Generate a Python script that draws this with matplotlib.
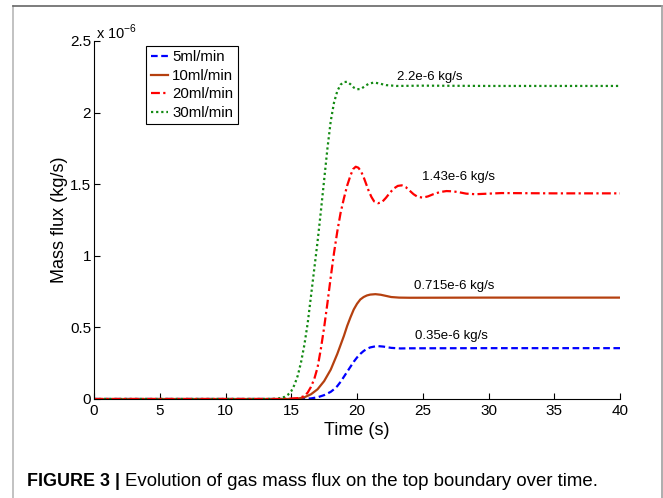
import matplotlib
matplotlib.use("Agg")
import matplotlib.pyplot as plt
from matplotlib.lines import Line2D
from matplotlib.transforms import offset_copy

plt.rcParams["font.family"] = ["Liberation Sans", "DejaVu Sans"]
plt.rcParams["mathtext.fontset"] = "custom"
plt.rcParams["mathtext.rm"] = "Liberation Sans"

# Gas mass flux on the top boundary (units of 1e-6 kg/s) versus time (s)
t_5 = [0, 15.5, 16, 16.5, 17, 17.5, 18, 18.25, 18.5, 18.75, 19, 19.25, 19.5,
       19.75, 20, 20.25, 20.5, 20.75, 21, 21.5, 22, 22.6, 23.3, 24, 30, 40]
q_5 = [0, 0, 0.001, 0.004, 0.012, 0.027, 0.05, 0.068, 0.09, 0.12, 0.155, 0.19,
       0.225, 0.26, 0.29, 0.315, 0.335, 0.35, 0.36, 0.370, 0.366, 0.357, 0.353,
       0.354, 0.355, 0.355]

t_10 = [0, 15, 15.5, 16, 16.5, 17, 17.5, 18, 18.5, 19, 19.25, 19.5, 19.75, 20,
        20.25, 20.5, 20.75, 21, 21.4, 21.8, 22.2, 22.6, 23.2, 24, 30, 40]
q_10 = [0, 0, 0.003, 0.012, 0.033, 0.068, 0.125, 0.205, 0.315, 0.44, 0.51,
        0.57, 0.625, 0.665, 0.695, 0.712, 0.723, 0.729, 0.732, 0.728, 0.72,
        0.712, 0.708, 0.707, 0.708, 0.708]

t_20 = [0, 14.5, 15, 15.5, 16, 16.25, 16.5, 16.75, 17, 17.25, 17.5, 17.75, 18,
        18.25, 18.5, 18.75, 19, 19.25, 19.5, 19.7, 19.9, 20.1, 20.3, 20.5, 20.7,
        20.9, 21.1, 21.3, 21.6, 21.9, 22.2, 22.5, 22.8, 23.1, 23.4, 23.7, 24.0,
        24.3, 24.6, 25.0, 25.4, 25.8, 26.3, 26.8, 27.3, 27.8, 28.3, 29, 30, 31,
        35, 40]
q_20 = [0, 0, 0.003, 0.006, 0.02, 0.045, 0.085, 0.14, 0.22, 0.35, 0.50, 0.67,
        0.85, 1.02, 1.17, 1.30, 1.40, 1.49, 1.56, 1.605, 1.622, 1.615, 1.59,
        1.55, 1.50, 1.45, 1.41, 1.38, 1.367, 1.375, 1.405, 1.44, 1.47, 1.488,
        1.492, 1.48, 1.455, 1.43, 1.412, 1.406, 1.415, 1.43, 1.445, 1.452,
        1.45, 1.443, 1.434, 1.430, 1.434, 1.438, 1.436, 1.436]

t_30 = [0, 13.5, 14, 14.5, 14.75, 15, 15.25, 15.5, 15.75, 16, 16.25, 16.5,
        16.75, 17, 17.25, 17.5, 17.75, 18, 18.25, 18.5, 18.75, 19, 19.25, 19.5,
        19.75, 20.0, 20.3, 20.6, 20.9, 21.3, 21.7, 22.2, 23, 25, 30, 40]
q_30 = [0, 0, 0.003, 0.015, 0.03, 0.055, 0.10, 0.165, 0.26, 0.38, 0.53, 0.72,
        0.91, 1.10, 1.31, 1.53, 1.75, 1.94, 2.07, 2.15, 2.195, 2.213, 2.215,
        2.198, 2.175, 2.163, 2.165, 2.185, 2.202, 2.21, 2.203, 2.192, 2.186,
        2.188, 2.186, 2.186]

series_labels = ["5ml/min", "10ml/min", "20ml/min", "30ml/min"]
steady_labels = ["0.35e-6 kg/s", "0.715e-6 kg/s", "1.43e-6 kg/s", "2.2e-6 kg/s"]

x_ticks = [0, 5, 10, 15, 20, 25, 30, 35, 40]
y_ticks = [0, 0.5, 1, 1.5, 2, 2.5]
y_tick_labels = ["0", "0.5", "1", "1.5", "2", "2.5"]

fig = plt.figure(figsize=(6.63, 4.98), dpi=100)
ax = fig.add_axes([0.1418, 0.1988, 0.7934, 0.7189])

scale = 1e-6
styles = [
    dict(color="#0000ff", linestyle=(0, (3, 1.6)), zorder=2.0),
    dict(color="#b5400f", linestyle="-", zorder=2.1),
    dict(color="#ff0000", linestyle=(0, (4, 1.5, 1, 1.5)), zorder=2.3),
    dict(color="#138a13", linestyle=(0, (1, 1.3)), zorder=2.2),
]
data = [(t_5, q_5), (t_10, q_10), (t_20, q_20), (t_30, q_30)]
handles = []
for (t, q), lab, st in zip(data, series_labels, styles):
    ln, = ax.plot(t, [v * scale for v in q], linewidth=1.6, label=lab, **st)
    handles.append(ln)

# steady-state value labels
label_pos = [(27.15, 0.44), (27.4, 0.79), (27.7, 1.55), (25.55, 2.25)]
for (xp, yp), txt in zip(label_pos, steady_labels):
    ax.text(xp, yp * scale, txt, fontsize=9.5, ha="center", va="center")

ax.set_xlim(0, 40)
ax.set_ylim(0, 2.5e-6)
ax.set_xticks(x_ticks)
ax.set_xticklabels([str(v) for v in x_ticks])
ax.set_yticks([v * scale for v in y_ticks])
ax.set_yticklabels(y_tick_labels)
ax.tick_params(direction="in", length=4.5, width=0.8, labelsize=11, pad=2)
ax.tick_params(axis="x", pad=3.5)
ax.spines["top"].set_visible(False)
ax.spines["right"].set_visible(False)
for s in ("left", "bottom"):
    ax.spines[s].set_linewidth(0.8)

exp_tr = offset_copy(ax.transAxes, fig=fig, x=0, y=2, units="dots")
ax.text(0.004, 1.0, r"x 10$^{\mathrm{-6}}$", transform=exp_tr,
        fontsize=10.5, ha="left", va="baseline")

ax.set_xlabel("Time (s)", fontsize=13, labelpad=3)
ax.set_ylabel("Mass flux (kg/s)", fontsize=13, labelpad=1.5)

leg = ax.legend(handles=handles, loc="upper left",
                bbox_to_anchor=(0.099, 0.986), fontsize=10.8,
                handlelength=1.15, handletextpad=0.3, borderpad=0.3,
                labelspacing=0.3, fancybox=False, framealpha=1,
                edgecolor="black", borderaxespad=0)
leg.get_frame().set_linewidth(0.8)

# figure frame
fig.add_artist(Line2D([13 / 663, 13 / 663], [0, 1 - 6.5 / 498],
                      transform=fig.transFigure, color="#b8b8b8", lw=1.2))
fig.add_artist(Line2D([13 / 663, 661.5 / 663], [1 - 6.5 / 498, 1 - 6.5 / 498],
                      transform=fig.transFigure, color="#666666", lw=1.2))
fig.add_artist(Line2D([661.5 / 663, 661.5 / 663], [0, 1 - 6.5 / 498],
                      transform=fig.transFigure, color="#a0a0a0", lw=1.2))

# caption
cap_y = 1 - 479 / 498
t1 = fig.text(27 / 663, cap_y, "FIGURE 3 |", fontsize=12.9, fontweight="bold",
              ha="left", va="center_baseline")
fig.canvas.draw()
bb = t1.get_window_extent()
fig.text((bb.x1 + 5) / 663, cap_y,
         "Evolution of gas mass flux on the top boundary over time.",
         fontsize=13.4, ha="left", va="center_baseline")

fig.savefig("out.png", dpi=100)
